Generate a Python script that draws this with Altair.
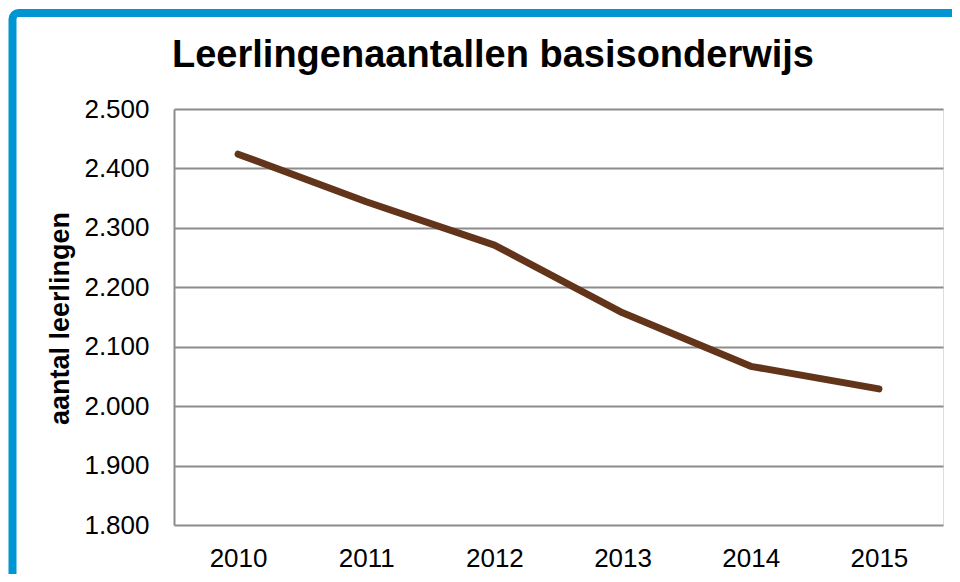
import altair as alt
import pandas as pd

years = ["2010", "2011", "2012", "2013", "2014", "2015"]
leerlingen = [2424, 2344, 2271, 2157, 2067, 2029]
y_ticks = [1800, 1900, 2000, 2100, 2200, 2300, 2400, 2500]

title_text = "Leerlingenaantallen basisonderwijs"
y_title = "aantal leerlingen"

FONT = "Liberation Sans"
GRID = "#8c8c8c"
LINE = "#62341a"
FRAME = "#0096d4"

df = pd.DataFrame({"jaar": years, "aantal": leerlingen})

line = alt.Chart(df).mark_line(
    color=LINE, strokeWidth=7, strokeCap="round", strokeJoin="round"
).encode(
    x=alt.X("jaar:O", sort=years,
            axis=alt.Axis(title=None, labelAngle=0, grid=False, ticks=False,
                          tickSize=0, domain=False, labelFontSize=26,
                          labelFont=FONT, labelColor="#000000",
                          labelPadding=20)),
    y=alt.Y("aantal:Q",
            scale=alt.Scale(domain=[y_ticks[0], y_ticks[-1]], nice=False, zero=False),
            axis=alt.Axis(values=y_ticks, title=y_title,
                          labelExpr="replace(format(datum.value, ',.0f'), ',', '.')",
                          labelFontSize=26, labelFont=FONT, labelColor="#000000",
                          labelPadding=25, ticks=False, tickSize=0,
                          grid=True, gridColor=GRID, gridWidth=2,
                          domain=True, domainColor=GRID, domainWidth=2,
                          titleFont=FONT, titleFontSize=27, titleFontWeight="bold",
                          titleColor="#000000", titleAngle=270,
                          titleX=-106, titleY=209, titleAlign="center",
                          titleBaseline="alphabetic")),
)

frame = alt.Chart(pd.DataFrame({"k": [0]})).mark_rect(
    filled=False, stroke=FRAME, strokeWidth=8, cornerRadius=6
).encode(
    x=alt.value(-161.5), x2=alt.value(900),
    y=alt.value(-96), y2=alt.value(600),
)

title = alt.Chart(pd.DataFrame({"t": [title_text]})).mark_text(
    font=FONT, fontSize=38, fontWeight="bold", color="#000000",
    align="center", baseline="alphabetic"
).encode(
    text="t:N", x=alt.value(319), y=alt.value(-42),
)

chart = alt.layer(frame, line, title).properties(
    width=769, height=416,
    autosize=alt.AutoSizeParams(type="none"),
    padding={"left": 166, "top": 101, "right": 9, "bottom": 49},
).configure_view(stroke=None).configure(background="white")

chart.save("out.html", embed_options={"renderer": "svg", "actions": False})
